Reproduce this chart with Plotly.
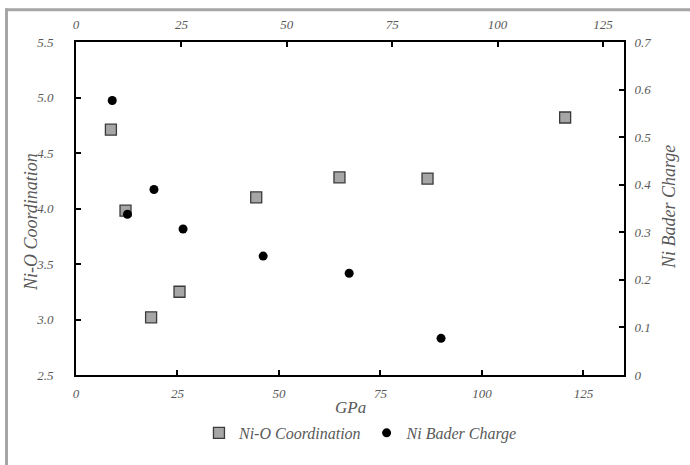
import plotly.graph_objects as go

pressure_gpa = [8.6, 12.2, 18.5, 25.5, 44.4, 64.9, 86.6, 120.5]
ni_o_coordination = [4.71, 3.98, 3.02, 3.25, 4.10, 4.28, 4.27, 4.82]
bader_pressure_gpa = [8.6, 12.2, 18.5, 25.4, 44.4, 64.8, 86.6]
ni_bader_charge = [0.577, 0.338, 0.390, 0.307, 0.250, 0.214, 0.077]

FONT = "Liberation Serif, Times New Roman, DejaVu Serif, serif"
GRAY = "#595959"

fig = go.Figure()
fig.add_trace(go.Scatter(
    x=pressure_gpa, y=ni_o_coordination, mode="markers", name="Ni-O Coordination",
    marker=dict(symbol="square", size=11, color="#a6a6a6", line=dict(color="#3a3a3a", width=1.3)),
    xaxis="x", yaxis="y"))
fig.add_trace(go.Scatter(
    x=bader_pressure_gpa, y=ni_bader_charge, mode="markers", name="Ni Bader Charge",
    marker=dict(symbol="circle", size=9, color="black"),
    xaxis="x2", yaxis="y2"))

tickfont = dict(family=FONT, size=13, color=GRAY, style="italic")
axis_common = dict(showline=True, linecolor="black", linewidth=2, ticks="inside",
                   ticklen=5, tickwidth=1.5, tickcolor="black", showgrid=False,
                   zeroline=False, tickfont=tickfont)

fig.update_layout(
    width=690, height=465,
    margin=dict(l=76, r=66, t=42, b=90),
    paper_bgcolor="white", plot_bgcolor="white",
    xaxis=dict(range=[0, 135], tickvals=[0, 25, 50, 75, 100, 125], ticklabelstandoff=5, **axis_common),
    xaxis2=dict(range=[0, 130], tickvals=[0, 25, 50, 75, 100, 125], overlaying="x",
                side="top", ticklabelstandoff=6, **axis_common),
    yaxis=dict(range=[2.5, 5.5], dtick=0.5, tickformat=".1f", ticklabelstandoff=18, **axis_common),
    yaxis2=dict(range=[0, 0.7], dtick=0.1, overlaying="y", side="right", ticklabelstandoff=6,
                **axis_common),
    showlegend=True,
    legend=dict(orientation="h", x=0.52, xanchor="center", y=-0.174, yanchor="middle",
                font=dict(family=FONT, size=16, color=GRAY, style="italic"),
                itemwidth=30, bgcolor="rgba(0,0,0,0)"),
)

title_font = dict(family=FONT, size=18, color=GRAY, style="italic")
fig.add_annotation(text="GPa", xref="paper", yref="paper", x=0.5, y=(375 - 407) / 333,
                   showarrow=False, font=dict(family=FONT, size=17, color=GRAY, style="italic"),
                   yanchor="middle")
fig.add_annotation(text="Ni-O Coordination", xref="paper", yref="paper",
                   x=(31 - 76) / 548, y=(375 - 222) / 333, textangle=-90,
                   showarrow=False, font=title_font, xanchor="center", yanchor="middle")
fig.add_annotation(text="Ni Bader Charge", xref="paper", yref="paper",
                   x=(669 - 76) / 548, y=(375 - 207) / 333, textangle=-90,
                   showarrow=False, font=title_font, xanchor="center", yanchor="middle")

# outer grey frame (top and left edges visible)
frame = dict(type="line", xref="paper", yref="paper", line=dict(color="#a6a6a6", width=3))
fig.add_shape(x0=(6.5 - 76) / 548, x1=(700 - 76) / 548, y0=(375 - 9.8) / 333, y1=(375 - 9.8) / 333, **frame)
fig.add_shape(x0=(6.5 - 76) / 548, x1=(6.5 - 76) / 548, y0=(375 - 8.3) / 333, y1=(375 - 480) / 333, **frame)

fig.write_html("out.html", config={"displayModeBar": False},
               post_script="document.body.style.margin='0';document.body.style.overflow='hidden';")
